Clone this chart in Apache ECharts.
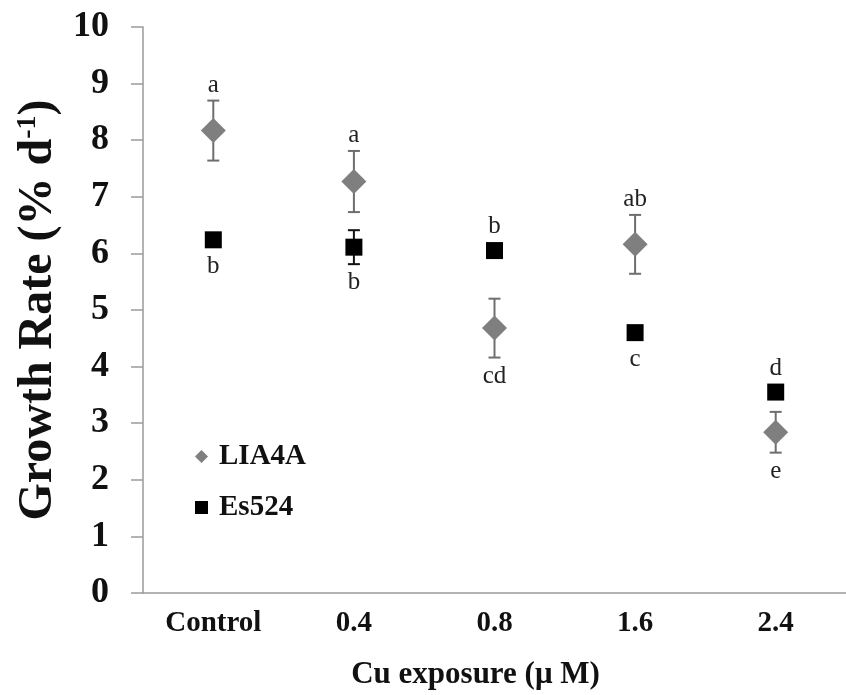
<!DOCTYPE html>
<html>
<head>
<meta charset="utf-8">
<script src="https://cdn.jsdelivr.net/npm/echarts@6/dist/echarts.min.js"></script>
<style>
html,body{margin:0;padding:0;background:#fff;}
#chart{width:846px;height:695px;}
</style>
</head>
<body>
<div id="chart"></div>
<script>
const categories = ['Control', '0.4', '0.8', '1.6', '2.4'];
const liaMean = [8.17, 7.27, 4.68, 6.16, 2.84];
const liaErr = [0.53, 0.54, 0.52, 0.52, 0.36];
const esMean = [6.24, 6.11, 6.05, 4.60, 3.55];
const esErr = [0, 0.30, 0, 0, 0];
const liaLetters = ['a', 'a', 'cd', 'ab', 'e'];
const liaLetterPos = ['top', 'top', 'bottom', 'top', 'bottom'];
const esLetters = ['b', 'b', 'b', 'c', 'd'];
const esLetterPos = ['bottom', 'bottom', 'top', 'bottom', 'top'];
const yTicks = [0, 1, 2, 3, 4, 5, 6, 7, 8, 9, 10];

const SERIF = '"Liberation Serif", "Times New Roman", serif';
const chart = echarts.init(document.getElementById('chart'), null, {renderer: 'canvas'});

function errSeries(name, means, errs, letters, pos, color, half) {
  return {
    type: 'custom',
    name: name + ' err',
    z: 1,
    data: means.map((m, i) => [i, m, errs[i]]),
    encode: {x: 0, y: 1},
    renderItem: function (params, api) {
      const idx = params.dataIndex;
      const i = api.value(0), m = api.value(1), e = api.value(2);
      const c = api.coord([i, m]);
      const top = api.coord([i, m + e]);
      const bot = api.coord([i, m - e]);
      const children = [];
      if (e > 0) {
        const ls = {stroke: color, lineWidth: 2};
        children.push({type: 'line', shape: {x1: c[0], y1: top[1], x2: c[0], y2: bot[1]}, style: ls});
        children.push({type: 'line', shape: {x1: c[0] - 6, y1: top[1], x2: c[0] + 6, y2: top[1]}, style: ls});
        children.push({type: 'line', shape: {x1: c[0] - 6, y1: bot[1], x2: c[0] + 6, y2: bot[1]}, style: ls});
      }
      const isTop = pos[idx] === 'top';
      const ext = isTop ? Math.min(top[1], c[1] - half) : Math.max(bot[1], c[1] + half);
      children.push({
        type: 'text',
        style: {
          text: letters[idx],
          x: c[0],
          y: isTop ? ext - 3 : ext + 6,
          align: 'center',
          verticalAlign: isTop ? 'bottom' : 'top',
          font: '25px ' + SERIF,
          fill: '#222'
        }
      });
      return {type: 'group', children: children};
    }
  };
}

const option = {
  backgroundColor: '#ffffff',
  animation: false,
  grid: {left: 143, top: 27, width: 714, height: 573, containLabel: false},
  legend: {
    data: ['LIA4A', 'Es524'],
    orient: 'vertical',
    left: 190,
    top: 437,
    itemWidth: 13,
    itemHeight: 13,
    itemGap: 22,
    textStyle: {fontFamily: SERIF, fontWeight: 'bold', fontSize: 29, color: '#111', padding: [0, 0, 0, 6]}
  },
  xAxis: {
    type: 'category',
    data: categories,
    boundaryGap: true,
    name: 'Cu exposure (\u03bc M)',
    nameLocation: 'middle',
    nameGap: 66,
    nameTextStyle: {fontFamily: SERIF, fontWeight: 'bold', fontSize: 31, color: '#111', padding: [0, 38, 0, 0]},
    axisLine: {lineStyle: {color: '#9a9a9a', width: 1.5}},
    axisTick: {alignWithLabel: true, length: 6, lineStyle: {color: '#bbbbbb'}},
    axisLabel: {fontFamily: SERIF, fontWeight: 'bold', fontSize: 29, color: '#111', margin: 16},
    splitLine: {show: false}
  },
  yAxis: {
    type: 'value',
    min: 0,
    max: 10,
    interval: 1,
    name: '{t|Growth Rate (% d}{s|-1}{t|)}',
    nameLocation: 'middle',
    nameGap: 80,
    nameTextStyle: {
      padding: [0, 0, 0, 0],
      rich: {
        t: {fontFamily: SERIF, fontWeight: 'bold', fontSize: 48, color: '#111'},
        s: {fontFamily: SERIF, fontWeight: 'bold', fontSize: 28, color: '#111', verticalAlign: 'top'}
      }
    },
    axisLine: {show: true, lineStyle: {color: '#9a9a9a', width: 1.5}},
    axisTick: {show: true, length: 12, lineStyle: {color: '#9a9a9a', width: 1.5}},
    axisLabel: {
      fontFamily: SERIF, fontWeight: 'bold', fontSize: 36, color: '#111', margin: 34,
      formatter: function (v) { return yTicks.indexOf(v) >= 0 ? String(v) : ''; }
    },
    splitLine: {show: false}
  },
  series: [
    errSeries('LIA4A', liaMean, liaErr, liaLetters, liaLetterPos, '#6e6e6e', 12.5),
    errSeries('Es524', esMean, esErr, esLetters, esLetterPos, '#111111', 8.5),
    {
      name: 'LIA4A',
      type: 'scatter',
      z: 3,
      symbol: 'diamond',
      symbolSize: 25,
      itemStyle: {color: '#7f7f7f', opacity: 1},
      data: liaMean
    },
    {
      name: 'Es524',
      type: 'scatter',
      z: 3,
      symbol: 'rect',
      symbolSize: 17,
      itemStyle: {color: '#000000', opacity: 1},
      data: esMean
    }
  ]
};
chart.setOption(option);
</script>
</body>
</html>
